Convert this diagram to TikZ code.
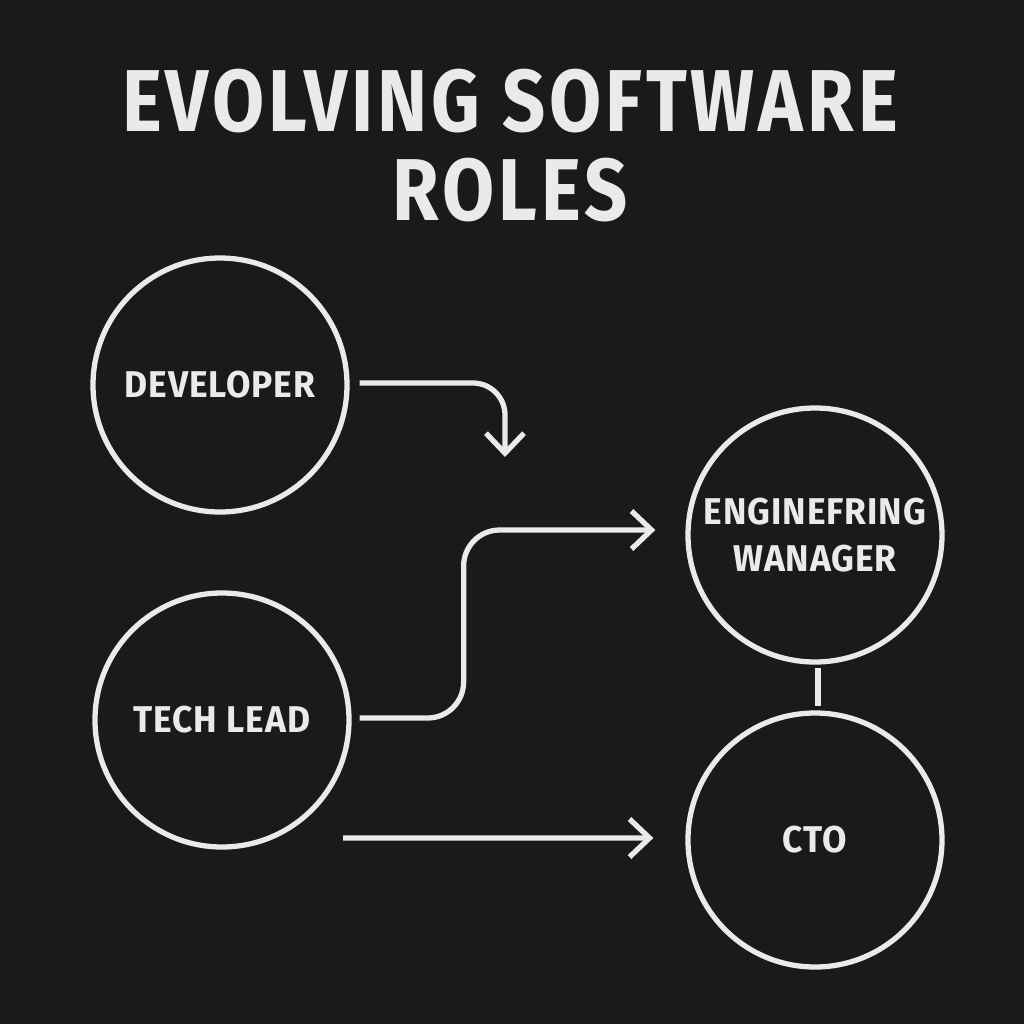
\documentclass[tikz,border=0pt]{standalone}
\usepackage{fontspec}
\setmainfont{Fira Sans}
\newfontfamily\titlefont[FakeStretch=0.86,LetterSpace=4.5]{Fira Sans}
\newfontfamily\labelfont[FakeStretch=0.95,LetterSpace=2.5]{Fira Sans}
\usetikzlibrary{positioning,arrows.meta}

\definecolor{bgdark}{HTML}{1A1A1A}
\definecolor{chalk}{HTML}{EAEAEA}

\tikzset{
  role/.style={circle, draw=chalk, line width=1.5pt, minimum size=2.54cm, inner sep=0pt,
    text=chalk, align=center, font=\labelfont\bfseries\fontsize{10.6}{13.6}\selectfont},
  flow/.style={draw=chalk, line width=1.5pt, -{Straight Barb[length=2mm,width=3.8mm]}},
  link/.style={draw=chalk, line width=1.5pt},
}

\begin{document}
\begin{tikzpicture}
% background and page size
\fill[bgdark] (0,0) rectangle (10.24,-10.24);
\useasboundingbox (0,0) rectangle (10.24,-10.24);

% title
\node[text=chalk, align=center, anchor=north, inner sep=0pt,
  font=\titlefont\bfseries\fontsize{25}{25.3}\selectfont] (title) at (5.10,-0.68)
  {EVOLVING SOFTWARE\\ROLES};

% the roles
\node[role] (dev) at (2.20,-3.85) {DEVELOPER};
\node[role] (tl)  at (2.22,-7.20) {TECH LEAD};
\node[role] (em)  at (8.15,-5.35) {ENGINEFRING\\WANAGER};
\node[role] (cto) at (8.15,-8.40) {CTO};

% free ends
\coordinate (devend) at (5.05,-4.57);
\coordinate (ctostart) at (3.43,-8.38);

% connectors
\draw[flow, rounded corners=0.32cm] ([xshift=0.1cm,yshift=0.02cm]dev.east) -| (devend);
\draw[flow, rounded corners=0.36cm] ([xshift=0.08cm,yshift=0.02cm]tl.east) -- ++(1.04,0)
  |- ([xshift=-0.30cm,yshift=0.05cm]em.west);
\draw[flow] (ctostart) -- ([xshift=-0.32cm,yshift=0.02cm]cto.west);
\draw[link] ([xshift=0.03cm,yshift=-0.03cm]em.south) -- ([xshift=0.03cm,yshift=0.04cm]cto.north);
\end{tikzpicture}
\end{document}
